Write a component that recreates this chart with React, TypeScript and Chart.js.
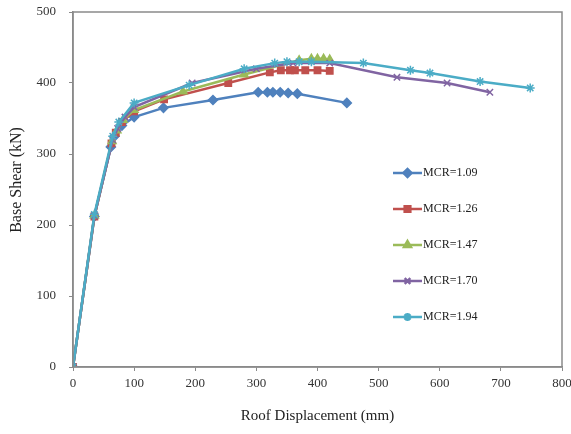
import React, { useEffect, useRef } from "react";
import { Chart, registerables } from "chart.js";
import { drawPoint } from "chart.js/helpers";

Chart.register(...registerables);

const seriesLabels = ["MCR=1.09", "MCR=1.26", "MCR=1.47", "MCR=1.70", "MCR=1.94"];
const seriesColors = ["#4F81BD", "#C0504D", "#9BBB59", "#8064A2", "#4BACC6"];
const seriesMarkers = ["rectRot", "rect", "triangle", "crossRot", "star"];
const xTitle = "Roof Displacement (mm)";
const yTitle = "Base Shear (kN)";

const mcr109: [number, number][] = [
  [0, 0], [35, 212], [62, 310], [68, 325], [80, 340], [100, 352], [148, 365], [229, 376],
  [303, 387], [318, 387], [327, 387], [339, 387], [352, 386], [367, 385], [448, 372],
];
const mcr126: [number, number][] = [
  [0, 0], [35, 212], [63, 315], [70, 330], [80, 345], [100, 360], [149, 377], [254, 400],
  [322, 415], [340, 418], [355, 418], [363, 418], [380, 418], [400, 418], [420, 417],
];
const mcr147: [number, number][] = [
  [0, 0], [35, 213], [64, 318], [72, 333], [82, 348], [100, 362], [180, 388], [280, 412],
  [370, 432], [390, 434], [400, 434], [410, 434], [420, 433],
];
const mcr170: [number, number][] = [
  [0, 0], [35, 213], [65, 320], [73, 336], [85, 352], [100, 366], [195, 400], [300, 420],
  [360, 428], [420, 428], [530, 408], [612, 400], [682, 387],
];
const mcr194: [number, number][] = [
  [0, 0], [35, 215], [65, 325], [75, 345], [100, 372], [190, 397], [280, 420], [330, 428],
  [350, 430], [370, 430], [390, 430], [475, 428], [552, 418], [584, 414], [666, 402], [748, 393],
];
const seriesData = [mcr109, mcr126, mcr147, mcr170, mcr194];

const FONT = "'Liberation Serif', 'Times New Roman', serif";

const frameAndLegend = {
  id: "frameAndLegend",
  afterDraw(chart: any) {
    const { ctx, chartArea } = chart;
    ctx.save();
    ctx.strokeStyle = "#8a8a8a";
    ctx.lineWidth = 1.5;
    ctx.strokeRect(chartArea.left, chartArea.top, chartArea.right - chartArea.left, chartArea.bottom - chartArea.top);
    // y axis title
    ctx.save();
    ctx.translate(17, 180);
    ctx.rotate(-Math.PI / 2);
    ctx.font = `16px ${FONT}`;
    ctx.fillStyle = "#222";
    ctx.textAlign = "center";
    ctx.textBaseline = "middle";
    ctx.fillText(yTitle, 0, 0);
    ctx.restore();
    // legend
    const x0 = 393, x1 = 422;
    const ys = [173, 209, 245, 281, 317];
    ctx.font = `12px ${FONT}`;
    ctx.textBaseline = "middle";
    ctx.textAlign = "left";
    seriesLabels.forEach((lab, i) => {
      const y = ys[i];
      ctx.strokeStyle = seriesColors[i];
      ctx.lineWidth = 2.5;
      ctx.beginPath();
      ctx.moveTo(x0, y);
      ctx.lineTo(x1, y);
      ctx.stroke();
      ctx.fillStyle = seriesColors[i];
      drawPoint(ctx, { pointStyle: seriesMarkers[i], radius: 4, borderWidth: 1.5, rotation: 0 }, (x0 + x1) / 2, y);
      ctx.fill();
      ctx.fillStyle = "#222";
      ctx.fillText(lab, x1 + 1, y);
    });
    ctx.restore();
  },
};

export default function App() {
  const ref = useRef<HTMLCanvasElement>(null);
  useEffect(() => {
    const datasets = seriesData.map((d, i) => ({
      label: seriesLabels[i],
      data: d.map(([x, y]) => ({ x, y })),
      borderColor: seriesColors[i],
      backgroundColor: seriesColors[i],
      pointStyle: seriesMarkers[i],
      pointRadius: 4.5,
      pointBorderWidth: 1.5,
      borderWidth: 2.5,
      showLine: true,
      tension: 0,
      order: 4 - i,
    }));
    const chart = new Chart(ref.current!, {
      type: "scatter",
      data: { datasets },
      plugins: [frameAndLegend],
      options: {
        animation: false,
        responsive: true,
        maintainAspectRatio: false,
        layout: { padding: { top: 12, right: 9, left: 0, bottom: 0 } },
        plugins: { legend: { display: false }, tooltip: { enabled: false } },
        scales: {
          x: {
            type: "linear",
            min: 0,
            max: 800,
            ticks: { stepSize: 100, font: { family: FONT, size: 13 }, color: "#333", padding: 5, maxRotation: 0 },
            grid: { drawOnChartArea: false, tickLength: 4, color: "#8a8a8a" },
            border: { color: "#8a8a8a", width: 1.5 },
            title: { display: true, text: xTitle, font: { family: FONT, size: 15 }, color: "#222", padding: { top: 4, bottom: 9 } },
            afterFit: (s: any) => { s.height = 67; s.paddingLeft = 0; s.paddingRight = 0; },
          },
          y: {
            type: "linear",
            min: 0,
            max: 500,
            ticks: { stepSize: 100, font: { family: FONT, size: 13 }, color: "#333", padding: 13 },
            grid: { drawOnChartArea: false, tickLength: 4, color: "#8a8a8a" },
            border: { color: "#8a8a8a", width: 1.5 },
            afterFit: (s: any) => { s.width = 73; s.paddingTop = 0; s.paddingBottom = 0; },
          },
        },
      },
    });
    return () => chart.destroy();
  }, []);
  return (
    <div style={{ position: "fixed", left: 0, top: 0, width: 571, height: 434, background: "#fff" }}>
      <canvas ref={ref} />
    </div>
  );
}
